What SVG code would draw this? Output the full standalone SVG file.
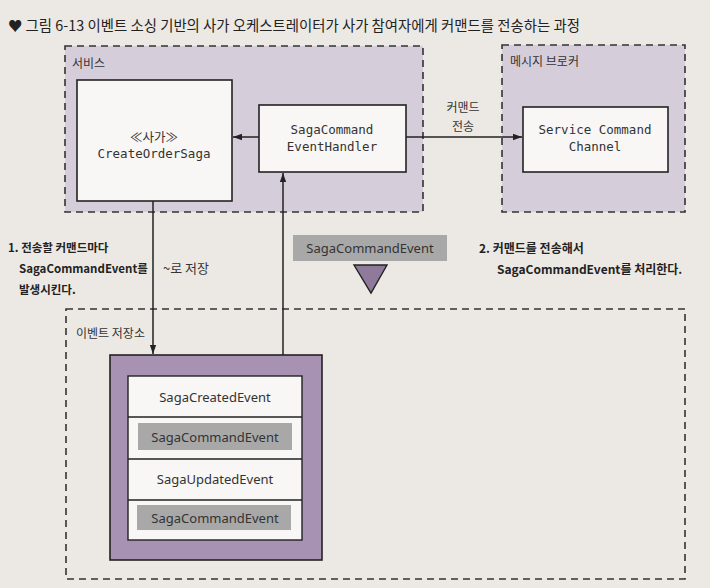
<svg xmlns="http://www.w3.org/2000/svg" width="710" height="588" viewBox="0 0 710 588">
<defs>
<marker id="ah" viewBox="0 0 10 10" refX="10" refY="5" markerWidth="9" markerHeight="9" orient="auto" markerUnits="userSpaceOnUse">
<path d="M0,1.5 L10,5 L0,8.5 Z" fill="#222"/>
</marker>
<style>
.bg{fill:#ece9e4}
.zone{fill:#d6cddb;stroke:#333;stroke-width:1.6;stroke-dasharray:7 5}
.zone2{fill:none;stroke:#333;stroke-width:1.6;stroke-dasharray:7 5}
.node{fill:#f8f7f5;stroke:#222;stroke-width:1.6}
.mono{font-family:"DejaVu Sans Mono","Liberation Mono","Noto Sans CJK KR",monospace;font-size:12.5px;fill:#333;text-anchor:middle}
.sans{font-family:"Noto Sans","Noto Sans CJK KR",sans-serif;font-size:13px;fill:#333}
.ko{font-family:"Noto Sans CJK KR",sans-serif;font-size:12px;fill:#333}
.bold{font-family:"Noto Sans CJK KR",sans-serif;font-size:12px;fill:#222;font-weight:bold}
.gray{fill:#a9a8a8}
.line{stroke:#222;stroke-width:1.5;fill:none}
</style>
</defs>
<rect class="bg" x="0" y="0" width="710" height="588"/>
<text x="8" y="31" style="font-family:'Noto Sans CJK KR',sans-serif;font-size:14.4px;fill:#222">♥ 그림 6-13 이벤트 소싱 기반의 사가 오케스트레이터가 사가 참여자에게 커맨드를 전송하는 과정</text>

<g id="service">
<rect class="zone" x="65" y="46" width="358" height="166"/>
<text x="72" y="68" class="ko">서비스</text>
</g>
<g id="broker">
<rect class="zone" x="502" y="45" width="183" height="167"/>
<text x="510" y="66" class="ko">메시지 브로커</text>
</g>
<g id="eventstore">
<rect class="zone2" x="66" y="309" width="619" height="270"/>
<text x="76" y="338" class="ko">이벤트 저장소</text>
</g>

<g id="createOrderSaga">
<rect class="node" x="77" y="80" width="155" height="121"/>
<text x="154" y="142" class="mono">≪사가≫</text>
<text x="154" y="158" class="mono">CreateOrderSaga</text>
</g>
<g id="sagaCommandEventHandler">
<rect class="node" x="259" y="105" width="147" height="67"/>
<text x="332" y="134" class="mono">SagaCommand</text>
<text x="332" y="151" class="mono">EventHandler</text>
</g>
<g id="serviceCommandChannel">
<rect class="node" x="523" y="107" width="145" height="65"/>
<text x="595" y="134" class="mono">Service Command</text>
<text x="595" y="151" class="mono">Channel</text>
</g>

<g id="store">
<rect x="110" y="355" width="212" height="205" fill="#a892b3" stroke="#222" stroke-width="1.6"/>
<rect x="128" y="376" width="174" height="164" fill="#f8f7f5" stroke="#222" stroke-width="1.4"/>
<line x1="128" y1="417" x2="302" y2="417" stroke="#222" stroke-width="1.4"/>
<line x1="128" y1="459" x2="302" y2="459" stroke="#222" stroke-width="1.4"/>
<line x1="128" y1="500" x2="302" y2="500" stroke="#222" stroke-width="1.4"/>
<rect class="gray" x="138" y="423" width="154" height="27"/>
<rect class="gray" x="137" y="505" width="154" height="25"/>
<text x="215" y="402" class="sans" text-anchor="middle">SagaCreatedEvent</text>
<text x="215" y="442" class="sans" text-anchor="middle">SagaCommandEvent</text>
<text x="215" y="484" class="sans" text-anchor="middle">SagaUpdatedEvent</text>
<text x="215" y="523" class="sans" text-anchor="middle">SagaCommandEvent</text>
</g>

<g id="eventLabel">
<rect class="gray" x="293" y="235" width="154" height="26"/>
<text x="370" y="253" class="sans" text-anchor="middle">SagaCommandEvent</text>
<polygon points="354,265 387,265 371,293" fill="#8f7a9c" stroke="#222" stroke-width="1.4"/>
</g>

<g id="connectors">
<line class="line" x1="259" y1="137" x2="233" y2="137" marker-end="url(#ah)"/>
<line class="line" x1="406" y1="137" x2="522" y2="137" marker-end="url(#ah)"/>
<line class="line" x1="153" y1="201" x2="153" y2="354" marker-end="url(#ah)"/>
<line class="line" x1="283" y1="355" x2="283" y2="173" marker-end="url(#ah)"/>
<text x="463" y="112" class="ko" text-anchor="middle">커맨드</text>
<text x="463" y="131" class="ko" text-anchor="middle">전송</text>
<text x="163" y="273" class="ko" style="font-size:13px">~로 저장</text>
</g>

<g id="notes">
<text x="8" y="252" class="bold" style="font-size:11.5px">1. 전송할 커맨드마다</text>
<text x="19" y="273" class="bold" style="font-size:11.5px">SagaCommandEvent를</text>
<text x="19" y="294" class="bold" style="font-size:11.5px">발생시킨다.</text>
<text x="479" y="253" class="bold">2. 커맨드를 전송해서</text>
<text x="497" y="274" class="bold">SagaCommandEvent를 처리한다.</text>
</g>
</svg>
